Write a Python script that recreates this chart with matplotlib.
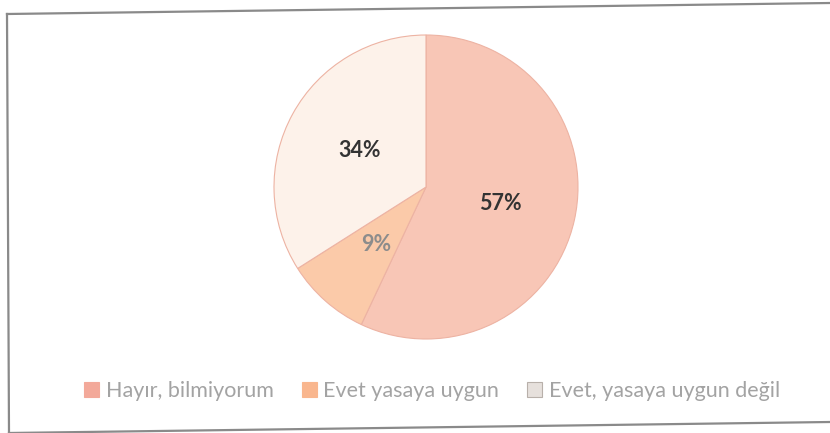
import matplotlib
matplotlib.use("Agg")
import matplotlib.pyplot as plt
from matplotlib.lines import Line2D
from matplotlib.patches import Patch

categories = ["Hayır, bilmiyorum", "Evet yasaya uygun", "Evet, yasaya uygun değil"]
shares = [57, 9, 34]
colors = ["#F8C6B6", "#FBCAA9", "#FDF2EA"]
label_colors = ["#333333", "#8C8C8C", "#333333"]

W, H = 830, 433
fig = plt.figure(figsize=(W / 100, H / 100), dpi=100)
fig.patch.set_facecolor("white")

# slightly tilted frame around the chart
frame_color = "#8A8A8A"
fx = lambda x: x / W
fy = lambda y: 1 - y / H
fig.add_artist(Line2D([fx(7), fx(830)], [fy(14), fy(3)], color=frame_color, lw=1.6))
fig.add_artist(Line2D([fx(7), fx(9)], [fy(14), fy(433)], color=frame_color, lw=1.6))
fig.add_artist(Line2D([fx(9), fx(830)], [fy(433), fy(422)], color=frame_color, lw=1.6))

cx, cy, r = 426, 187, 152
ax = fig.add_axes([(cx - r) / W, (H - cy - r) / H, 2 * r / W, 2 * r / H])
wedges, texts, autotexts = ax.pie(
    shares, colors=colors, startangle=90, counterclock=False,
    autopct="%d%%", pctdistance=0.5,
    wedgeprops=dict(edgecolor="#EDB3A3", linewidth=0.8),
    textprops=dict(fontsize=15.5, fontweight="bold", family=["Lato", "DejaVu Sans"]),
)
for t, c in zip(autotexts, label_colors):
    t.set_color(c)
ax.set_xlim(-1, 1)
ax.set_ylim(-1, 1)
ax.axis("off")

handles = [Patch(facecolor=c, edgecolor=e, linewidth=0.8)
           for c, e in zip(["#F3A99A", "#F9B68E", "#E6E0DC"], ["#F3A99A", "#F9B68E", "#B8B0AA"])]
leg = fig.legend(handles, categories, loc="center", bbox_to_anchor=(fx(432), fy(391)),
                 ncol=3, frameon=False, handlelength=0.7, handleheight=0.7,
                 handletextpad=0.3, columnspacing=1.3,
                 prop=dict(family=["Lato", "DejaVu Sans"], size=15.5))
for t in leg.get_texts():
    t.set_color("#A3A3A3")

fig.savefig("out.png", dpi=100, facecolor="white")
